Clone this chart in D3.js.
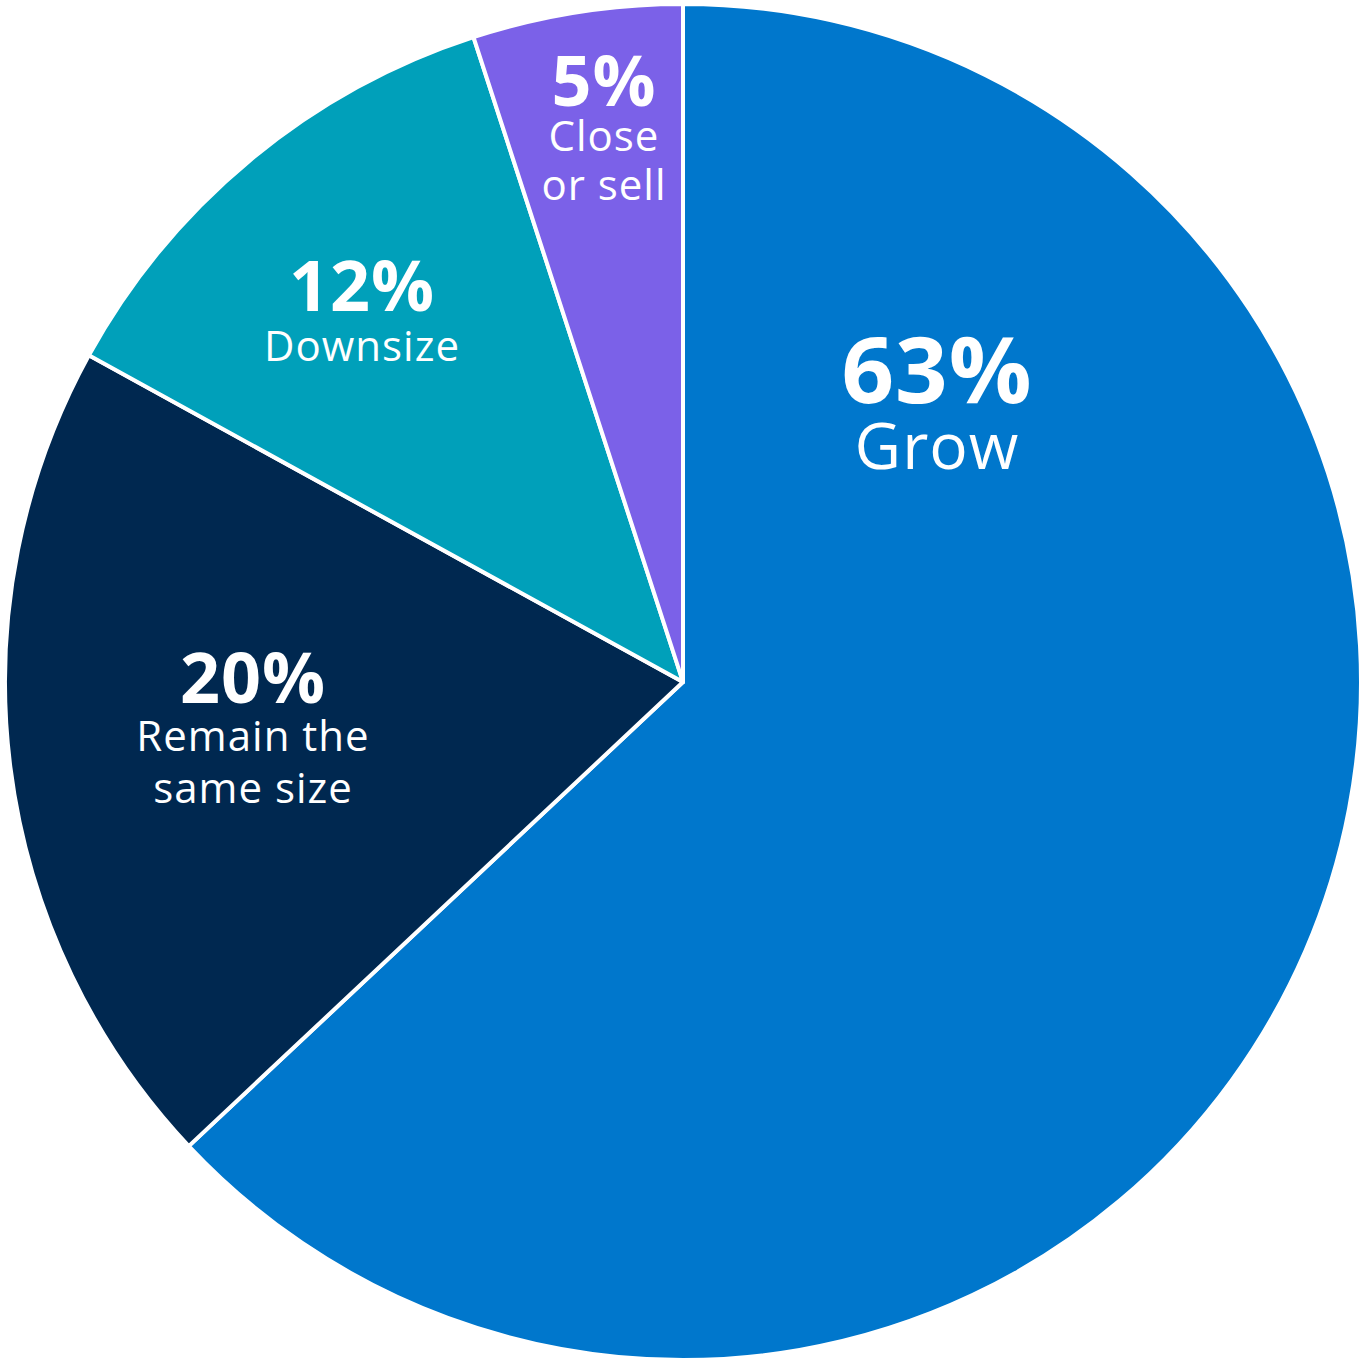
<!DOCTYPE html>
<html><head><meta charset="utf-8">
<script src="https://cdn.jsdelivr.net/npm/d3@7"></script>
<style>body{margin:0;background:#fff}</style></head>
<body><svg id="c" width="1366" height="1364"></svg>
<script>
const categories = ["Grow","Remain the same size","Downsize","Close or sell"];
const values = [63,20,12,5];
const labelLines = [["Grow"],["Remain the","same size"],["Downsize"],["Close","or sell"]];
const colors = ["#0077CC","#002850","#00A0BA","#7B61E8"];
// label layout (style)
const layout = [
  {x:937,y:403,p:92,t:64,lh:70},
  {x:253,y:703,p:70,t:42,lh:52},
  {x:362,y:311,p:70,t:42,lh:54},
  {x:604,y:106,p:70,t:42,lh:49}
];
const svg = d3.select("#c");
const cx=683, cy=682, R=678;
const pie = d3.pie().sort(null).value(d=>d)(values);
const arc = d3.arc().innerRadius(0).outerRadius(R);
const g = svg.append("g").attr("transform",`translate(${cx},${cy})`);
g.selectAll("path").data(pie).join("path")
  .attr("d",arc).attr("fill",(d,i)=>colors[i])
  .attr("stroke","#fff").attr("stroke-width",4).attr("stroke-linejoin","round");
const font="Open Sans, Noto Sans, sans-serif";
values.forEach((v,i)=>{
  const L=layout[i];
  svg.append("text").attr("x",L.x).attr("y",L.y).attr("text-anchor","middle")
    .attr("fill","#fff").attr("font-family",font).attr("font-weight",700)
    .attr("font-size",L.p).attr("letter-spacing",1).text(v+"%");
  labelLines[i].forEach((s,j)=>{
    svg.append("text").attr("x",L.x).attr("y",L.y+L.lh*(j+1)-4)
      .attr("text-anchor","middle").attr("fill","#fff").attr("font-family",font)
      .attr("font-size",L.t).attr("letter-spacing",1).text(s);
  });
});
</script></body></html>
